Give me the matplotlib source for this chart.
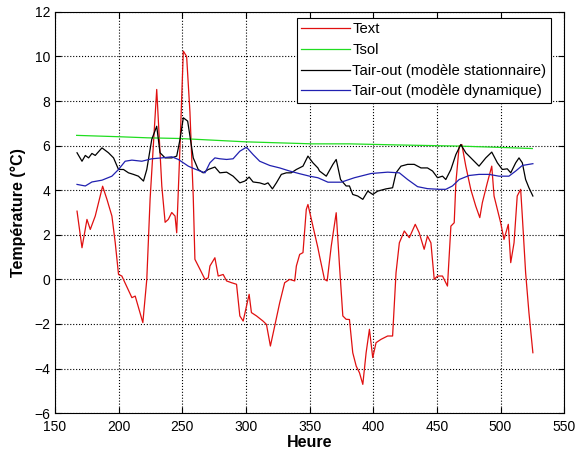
import matplotlib
matplotlib.use('Agg')
import matplotlib.pyplot as plt

plt.rcParams['font.family'] = ['Liberation Sans', 'DejaVu Sans']

# Text (red)
text_x = [167.3, 171.2, 175.1, 177.7, 181.6, 187.4, 190.8, 194.7, 197.3, 199.9,
          202.5, 210.4, 213.0, 219.0, 222.1, 224.7, 229.9, 233.9, 236.5, 239.0,
          241.7, 244.3, 245.6, 248.2, 250.8, 253.4, 256.0, 258.6, 259.9, 263.9,
          267.8, 270.4, 271.7, 275.6, 278.2, 282.1, 284.8, 288.7, 292.6, 295.2,
          297.8, 302.5, 304.3, 308.3, 313.4, 316.1, 319.2, 322.6, 326.5, 330.4,
          334.3, 338.3, 339.6, 342.2, 344.8, 347.4, 348.7, 352.6, 356.5, 357.8,
          361.7, 363.8, 367.0, 370.9, 373.5, 376.1, 378.7, 381.3, 383.9, 386.6,
          389.2, 391.8, 394.4, 397.0, 399.6, 402.2, 406.1, 411.3, 415.2, 417.9,
          420.5, 424.4, 428.3, 433.0, 436.1, 440.0, 442.6, 445.3, 447.9, 450.5,
          454.4, 458.3, 461.0, 463.6, 464.9, 467.5, 469.6, 472.7, 476.6, 480.5,
          483.7, 485.7, 489.6, 493.1, 494.9, 497.5, 500.1, 502.7, 506.1, 508.0,
          510.6, 513.1, 515.8, 517.1, 519.7, 522.3, 525.4]
text_y = [3.06, 1.42, 2.69, 2.24, 2.84, 4.18, 3.59, 2.84, 1.65, 0.22,
          0.15, -0.82, -0.75, -1.94, 0.0, 3.6, 8.52, 4.18, 2.56, 2.69,
          3.0, 2.84, 2.09, 5.98, 10.24, 10.0, 7.5, 3.7, 0.9, 0.45,
          0.0, 0.07, 0.6, 0.97, 0.15, 0.22, -0.07, -0.15, -0.22, -1.64,
          -1.87, -0.67, -1.49, -1.64, -1.87, -2.02, -2.99, -2.09, -1.05, -0.15,
          0.0, -0.07, 0.6, 1.12, 1.2, 3.14, 3.36, 2.39, 1.42, 1.05,
          0.0, -0.07, 1.49, 2.99, 0.6, -1.64, -1.79, -1.8, -3.29, -3.89,
          -4.19, -4.71, -3.29, -2.24, -3.51, -2.84, -2.69, -2.54, -2.54, 0.3,
          1.64, 2.17, 1.87, 2.47, 2.09, 1.35, 1.94, 1.64, 0.0, 0.15,
          0.15, -0.3, 2.39, 2.54, 4.33, 5.98, 6.05, 5.08, 4.04, 3.29,
          2.77, 3.44, 4.33, 5.08, 3.74, 3.14, 2.54, 1.79, 2.47, 0.75,
          1.64, 3.74, 4.04, 2.84, 0.3, -1.49, -3.29]

# Tsol (green)
tsol_x = [167.0, 200.0, 223.0, 248.0, 300.0, 352.0, 381.0, 420.0, 467.0, 500.0, 525.0]
tsol_y = [6.46, 6.40, 6.35, 6.32, 6.17, 6.08, 6.08, 6.03, 5.98, 5.92, 5.87]

# Tair-out stationary model (black)
stat_x = [167.3, 171.2, 173.8, 176.4, 179.0, 181.6, 186.9, 192.0, 196.0, 199.9,
          203.8, 207.7, 211.6, 215.5, 219.5, 222.1, 226.0, 229.9, 232.5, 236.5,
          241.7, 245.6, 248.2, 250.8, 254.2, 256.8, 258.6, 262.5, 266.4, 270.4,
          275.6, 279.5, 284.8, 289.9, 295.2, 299.1, 302.5, 305.6, 310.8, 314.7,
          317.3, 320.8, 323.9, 327.8, 331.7, 335.6, 339.6, 344.8, 348.7, 352.6,
          356.5, 357.8, 363.1, 368.3, 370.9, 374.3, 378.7, 381.3, 383.9, 387.8,
          391.8, 395.7, 399.6, 403.5, 410.0, 415.2, 417.9, 421.8, 427.0, 432.2,
          437.5, 442.6, 446.6, 450.5, 454.4, 457.0, 461.0, 464.9, 468.8, 472.7,
          477.9, 483.1, 488.4, 493.1, 497.5, 501.4, 505.3, 508.0, 511.9, 514.5,
          517.1, 519.7, 522.3, 525.4]
stat_y = [5.68, 5.3, 5.56, 5.45, 5.65, 5.56, 5.9, 5.68, 5.45, 4.93,
          4.93, 4.78, 4.71, 4.63, 4.41, 4.93, 6.28, 6.87, 5.68, 5.45,
          5.45, 5.53, 6.28, 7.25, 7.1, 6.13, 5.45, 4.93, 4.78, 4.93,
          5.04, 4.78, 4.81, 4.63, 4.33, 4.41, 4.59, 4.37, 4.33, 4.26,
          4.33, 4.06, 4.33, 4.71, 4.78, 4.78, 4.93, 5.08, 5.53, 5.23,
          5.0, 4.86, 4.63, 5.16, 5.38, 4.48, 4.19, 4.19, 3.81, 3.74,
          3.59, 3.96, 3.81, 3.96, 4.06, 4.11, 4.78, 5.08, 5.16, 5.16,
          5.0, 5.0, 4.86, 4.56, 4.63, 4.48, 4.93, 5.6, 6.05, 5.68,
          5.38, 5.08, 5.45, 5.71, 5.23, 4.93, 4.96, 4.78, 5.23, 5.45,
          5.23, 4.48, 4.11, 3.74]

# Tair-out dynamic model (blue)
dyn_x = [167.3, 173.8, 179.0, 186.9, 194.7, 199.9, 205.1, 210.4, 218.2, 226.0,
         233.9, 241.7, 246.9, 254.7, 258.6, 263.9, 267.8, 271.7, 275.6, 279.5,
         284.8, 289.9, 295.2, 300.4, 305.6, 310.8, 318.7, 326.5, 334.3, 342.2,
         350.0, 356.5, 364.4, 374.8, 385.2, 398.3, 411.3, 420.5, 427.0, 434.8,
         442.6, 451.8, 457.0, 462.2, 467.5, 475.3, 483.1, 490.9, 498.8, 506.6,
         511.9, 517.1, 525.4]
dyn_y = [4.26, 4.19, 4.37, 4.45, 4.63, 4.93, 5.3, 5.35, 5.3, 5.41,
         5.45, 5.5, 5.38, 5.08, 4.98, 4.86, 4.78, 5.23, 5.45, 5.41,
         5.38, 5.41, 5.75, 5.93, 5.6, 5.3, 5.11, 5.0, 4.86, 4.74,
         4.63, 4.56, 4.36, 4.36, 4.56, 4.75, 4.81, 4.78, 4.48, 4.16,
         4.07, 4.04, 4.04, 4.19, 4.48, 4.66, 4.71, 4.71, 4.63, 4.63,
         4.86, 5.11, 5.19]

labels = ['Text', 'Tsol', 'Tair-out (modèle stationnaire)', 'Tair-out (modèle dynamique)']

fig = plt.figure(figsize=(5.76, 4.57), dpi=100)
ax = fig.add_axes([0.0955, 0.096, 0.884, 0.878])

ax.plot(text_x, text_y, color='#e01010', linewidth=0.9, label=labels[0])
ax.plot(tsol_x, tsol_y, color='#20dd20', linewidth=0.9, label=labels[1])
ax.plot(stat_x, stat_y, color='black', linewidth=0.9, label=labels[2])
ax.plot(dyn_x, dyn_y, color='#2020b0', linewidth=0.9, label=labels[3])

ax.set_xlim(150, 550)
ax.set_ylim(-6, 12)
ax.set_xticks(range(150, 551, 50))
ax.set_yticks(range(-6, 13, 2))
ax.grid(True, linestyle=':', color='black', linewidth=0.8)
ax.tick_params(direction='in', top=True, right=True, labelsize=10, length=4)
ax.tick_params(axis='x', pad=5)
for s in ax.spines.values():
    s.set_linewidth(0.8)

ax.set_xlabel('Heure', fontsize=11.5, fontweight='bold', labelpad=1)
ax.set_ylabel('Température (°C)', fontsize=11.5, fontweight='bold', labelpad=6)

leg = ax.legend(loc='upper right', bbox_to_anchor=(0.974, 0.985), bbox_transform=ax.transAxes,
                borderaxespad=0, fontsize=10.7, fancybox=False, framealpha=1,
                handlelength=3.3, handletextpad=0.15, labelspacing=0.45, borderpad=0.3)
leg.get_frame().set_edgecolor('black')
leg.get_frame().set_linewidth(0.8)

fig.savefig('out.png', dpi=100)
